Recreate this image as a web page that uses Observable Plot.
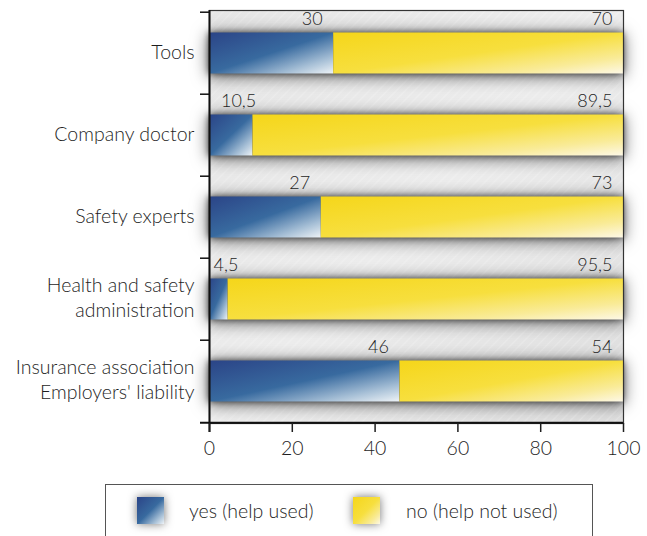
<!DOCTYPE html>
<html>
<head>
<meta charset="utf-8">
<script src="https://cdn.jsdelivr.net/npm/d3@7"></script>
<script src="https://cdn.jsdelivr.net/npm/@observablehq/plot@0.6"></script>
<style>
  html, body { margin: 0; padding: 0; background: #fff; }
  body { position: relative; width: 647px; height: 536px; overflow: hidden; font-family: Lato, "Open Sans", sans-serif; font-weight: 300; color: #333; }
  #chart svg { overflow: visible; display: block; }
  #legend { position: absolute; left: 105px; top: 484px; width: 488px; height: 70px; border: 1.5px solid #555; border-bottom: none; box-sizing: border-box; }
  .sw { position: absolute; top: 12px; width: 27px; height: 27px; box-shadow: 0 0 10px rgba(0,0,0,0.55); }
  .lt { position: absolute; top: 12px; line-height: 27px; font-size: 19.5px; color: #1e1e1e; white-space: nowrap; }
</style>
</head>
<body>
<div id="chart"></div>
<div id="legend"></div>
<script>
const categories = ["Tools", "Company doctor", "Safety experts", "Health and safety\nadministration", "Insurance association\nEmployers' liability"];
const seriesNames = ["yes (help used)", "no (help not used)"];
const yesValues = [30, 10.5, 27, 4.5, 46];
const noValues = [70, 89.5, 73, 95.5, 54];
const xTicks = [0, 20, 40, 60, 80, 100];

const data = categories.flatMap((c, i) => [
  {category: c, answer: seriesNames[0], value: yesValues[i]},
  {category: c, answer: seriesNames[1], value: noValues[i]}
]);
const fmt = v => String(v).replace(".", ",");

const H = 480, MT = 10, MB = 57;
const step = (H - MT - MB) / categories.length;

const plot = Plot.plot({
  width: 647,
  height: H,
  marginLeft: 209,
  marginRight: 24,
  marginTop: MT,
  marginBottom: MB,
  style: {fontFamily: "Lato, 'Open Sans', sans-serif", fontWeight: 300, fontSize: "19.5px", color: "#1e1e1e", background: "transparent", overflow: "visible"},
  x: {domain: [0, 100], label: null},
  y: {domain: categories, padding: 0, label: null},
  color: {domain: seriesNames, range: ["url(#gYes)", "url(#gNo)"]},
  marks: [
    Plot.frame({fill: "url(#gBg)"}),
    Plot.frame({fill: "url(#hatch)"}),
    Plot.barX(data, Plot.stackX({x: "value", y: "category", fill: "answer", insetTop: 20.5, insetBottom: 20.5})),
    Plot.text(categories, {x: (d, i) => Math.max(yesValues[i], 8.7), y: d => d, text: (d, i) => fmt(yesValues[i]), textAnchor: "start", dx: -32, dy: -34, fill: "#1e1e1e", fontSize: 18}),
    Plot.text(categories, {x: (d, i) => yesValues[i] + noValues[i], y: d => d, text: (d, i) => fmt(noValues[i]), textAnchor: "end", dx: -11, dy: -34, fill: "#1e1e1e", fontSize: 18}),
    Plot.frame({stroke: "#333", strokeWidth: 1.2}),
    Plot.ruleY(categories, {y: d => d, x1: 0, x2: 0, insetLeft: -9, dy: -step / 2, stroke: "#111", strokeWidth: 1.5}),
    Plot.ruleY([categories[categories.length - 1]], {y: d => d, x1: 0, x2: 100, insetLeft: -9, dy: step / 2, stroke: "#111", strokeWidth: 2}),
    Plot.ruleX([0], {stroke: "#111", strokeWidth: 2, insetBottom: -9}),
    Plot.axisX({ticks: xTicks, tickSize: 9, tickPadding: 9, tickFormat: d => String(d), fontSize: 19.5, strokeWidth: 1.5, fill: "#1e1e1e", label: null}),
    Plot.axisY({tickSize: 0, tickPadding: 15, fontSize: 19.5, lineHeight: 1.28, dy: -3, fill: "#1e1e1e", label: null})
  ]
});

const defs = `
<defs>
  <linearGradient id="gYes" x1="0" y1="0" x2="1" y2="1">
    <stop offset="0" stop-color="#2b4487"/>
    <stop offset="0.5" stop-color="#386a9f"/>
    <stop offset="0.8" stop-color="#a6bfd6"/>
    <stop offset="1" stop-color="#eef3f7"/>
  </linearGradient>
  <linearGradient id="gNo" x1="0" y1="0" x2="1" y2="1">
    <stop offset="0" stop-color="#f5d61a"/>
    <stop offset="0.5" stop-color="#f7df3e"/>
    <stop offset="0.8" stop-color="#f9eb98"/>
    <stop offset="1" stop-color="#fdf8e6"/>
  </linearGradient>
  <linearGradient id="gBg" x1="0" y1="0" x2="1" y2="1">
    <stop offset="0" stop-color="#e6e6e6"/>
    <stop offset="0.5" stop-color="#ededed"/>
    <stop offset="1" stop-color="#dedede"/>
  </linearGradient>
  <pattern id="hatch" width="9" height="9" patternUnits="userSpaceOnUse">
    <path d="M0,9 L9,0" stroke="#ffffff" stroke-opacity="0.45" stroke-width="0.8"/>
  </pattern>
</defs>`;
const svg = d3.select(plot);
svg.insert("g", ":first-child").html(defs);
svg.selectAll('g[aria-label="bar"]')
  .style("filter", "drop-shadow(0px 0px 3px rgba(0,0,0,0.6)) drop-shadow(0px 2px 8px rgba(0,0,0,0.6))");
document.getElementById("chart").appendChild(plot);

const legend = d3.select("#legend");
const swatchCss = [
  "linear-gradient(135deg, #2b4487 0%, #386a9f 50%, #a6bfd6 80%, #eef3f7 100%)",
  "linear-gradient(135deg, #f5d61a 0%, #f7df3e 50%, #f9eb98 80%, #fdf8e6 100%)"
];
const swLeft = [31, 247];
const txLeft = [83, 300];
seriesNames.forEach((name, i) => {
  legend.append("div").attr("class", "sw").style("left", swLeft[i] + "px").style("background", swatchCss[i]);
  legend.append("div").attr("class", "lt").style("left", txLeft[i] + "px").text(name);
});
</script>
</body>
</html>
